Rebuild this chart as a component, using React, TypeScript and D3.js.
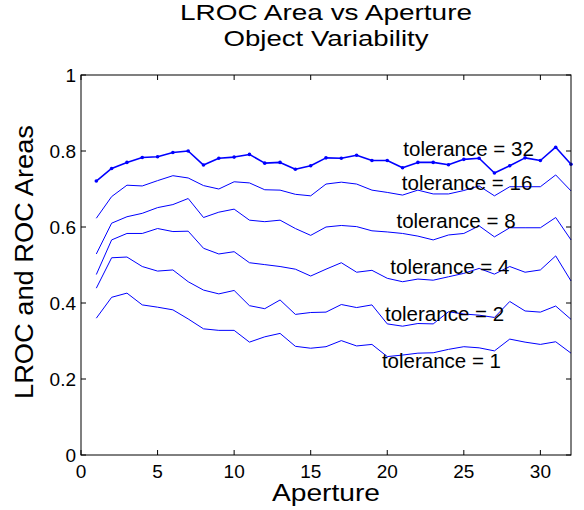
import React from "react";
import * as d3 from "d3";

// aperture values on the x axis
const apertures = [
  1, 2, 3, 4, 5, 6, 7, 8, 9, 10, 11, 12, 13, 14, 15, 16, 17, 18, 19, 20, 21, 22,
  23, 24, 25, 26, 27, 28, 29, 30, 31, 32,
];

const tol32 = [0.721, 0.754, 0.77, 0.783, 0.785, 0.796, 0.8, 0.763, 0.781, 0.784, 0.791, 0.768, 0.77, 0.752, 0.761, 0.782, 0.781, 0.789, 0.775, 0.775, 0.756, 0.77, 0.77, 0.764, 0.778, 0.781, 0.742, 0.761, 0.782, 0.775, 0.81, 0.765];
const tol16 = [0.623, 0.68, 0.71, 0.708, 0.722, 0.735, 0.729, 0.709, 0.7, 0.719, 0.716, 0.698, 0.697, 0.686, 0.682, 0.713, 0.718, 0.713, 0.697, 0.691, 0.684, 0.697, 0.687, 0.687, 0.696, 0.708, 0.682, 0.706, 0.706, 0.706, 0.737, 0.695];
const tol8 = [0.529, 0.61, 0.627, 0.636, 0.651, 0.659, 0.675, 0.625, 0.639, 0.647, 0.618, 0.614, 0.618, 0.596, 0.578, 0.6, 0.604, 0.601, 0.59, 0.587, 0.583, 0.576, 0.566, 0.579, 0.583, 0.603, 0.574, 0.598, 0.598, 0.598, 0.625, 0.566];
const tol4 = [0.475, 0.566, 0.583, 0.583, 0.596, 0.588, 0.589, 0.544, 0.529, 0.535, 0.506, 0.501, 0.496, 0.489, 0.471, 0.489, 0.506, 0.481, 0.486, 0.465, 0.456, 0.463, 0.46, 0.469, 0.478, 0.491, 0.476, 0.496, 0.481, 0.487, 0.524, 0.458];
const tol2 = [0.439, 0.519, 0.521, 0.496, 0.484, 0.487, 0.456, 0.434, 0.424, 0.433, 0.393, 0.385, 0.408, 0.37, 0.375, 0.376, 0.396, 0.388, 0.395, 0.345, 0.339, 0.346, 0.345, 0.377, 0.371, 0.368, 0.362, 0.404, 0.379, 0.376, 0.392, 0.357];
const tol1 = [0.36, 0.415, 0.426, 0.395, 0.389, 0.382, 0.358, 0.332, 0.328, 0.328, 0.297, 0.311, 0.32, 0.286, 0.281, 0.285, 0.301, 0.287, 0.291, 0.259, 0.263, 0.268, 0.269, 0.278, 0.285, 0.282, 0.274, 0.305, 0.297, 0.291, 0.298, 0.268];

const series = [tol32, tol16, tol8, tol4, tol2, tol1];
const tolerances = [32, 16, 8, 4, 2, 1];
// where each "tolerance = n" text sits, in data units (left edge, middle)
const labelX = [21.05, 20.95, 20.6, 20.2, 19.85, 19.65];
const labelY = [0.806, 0.716, 0.616, 0.497, 0.371, 0.248];

const xTicks = [0, 5, 10, 15, 20, 25, 30];
const yTicks = [0, 0.2, 0.4, 0.6, 0.8, 1];

const width = 584;
const height = 510;
const margin = { top: 75, left: 81, bottom: 55, right: 13 };
const font = "'Liberation Sans', Arial, Helvetica, sans-serif";

export default function App() {
  const iwidth = width - margin.left - margin.right;
  const iheight = height - margin.top - margin.bottom;

  const x = d3.scaleLinear().domain([0, 32]).range([0, iwidth]);
  const y = d3.scaleLinear().domain([0, 1]).range([iheight, 0]);

  const line = d3
    .line<number>()
    .x((d, i) => x(apertures[i]))
    .y((d) => y(d));

  const tick = 5;

  return (
    <svg
      width={width}
      height={height}
      style={{ position: "absolute", left: 0, top: 0, background: "#fff" }}
      fontFamily={font}
    >
      <rect width={width} height={height} fill="#fff" />
      <text x={margin.left + iwidth / 2} y={20} fontSize={22} textAnchor="middle" textLength={292} lengthAdjust="spacingAndGlyphs">
        LROC Area vs Aperture
      </text>
      <text x={margin.left + iwidth / 2} y={46} fontSize={22} textAnchor="middle" textLength={205} lengthAdjust="spacingAndGlyphs">
        Object Variability
      </text>

      <g transform={`translate(${margin.left},${margin.top})`}>
        {series.map((s, k) => (
          <path
            key={k}
            d={line(s) || ""}
            fill="none"
            stroke="#0000ff"
            strokeWidth={k === 0 ? 1.6 : 1}
            strokeLinejoin="round"
          />
        ))}
        {tol32.map((d, i) => (
          <circle key={i} cx={x(apertures[i])} cy={y(d)} r={1.8} fill="#0000ff" />
        ))}

        {tolerances.map((t, k) => (
          <text
            key={t}
            x={x(labelX[k])}
            y={y(labelY[k])}
            dy="0.36em"
            fontSize={20.5}
            fill="#000"
          >
            {`tolerance = ${t}`}
          </text>
        ))}

        {/* box */}
        <rect x={0} y={0} width={iwidth} height={iheight} fill="none" stroke="#000" strokeWidth={1} />

        {xTicks.map((t) => (
          <g key={t} transform={`translate(${x(t)},0)`}>
            <line y1={iheight} y2={iheight - tick} stroke="#000" />
            <line y1={0} y2={tick} stroke="#000" />
            <text y={iheight + 23} fontSize={19} textAnchor="middle">
              {t}
            </text>
          </g>
        ))}
        {yTicks.map((t) => (
          <g key={t} transform={`translate(0,${y(t)})`}>
            <line x1={0} x2={tick} stroke="#000" />
            <line x1={iwidth} x2={iwidth - tick} stroke="#000" />
            <text x={-5} dy="0.36em" fontSize={19} textAnchor="end">
              {t}
            </text>
          </g>
        ))}

        <text x={iwidth / 2} y={iheight + 46} fontSize={23} textAnchor="middle" textLength={108} lengthAdjust="spacingAndGlyphs">
          Aperture
        </text>
        <text
          transform={`translate(${33 - margin.left},${iheight / 2 - 3}) rotate(-90)`}
          fontSize={25}
          textAnchor="middle"
          textLength={274}
          lengthAdjust="spacingAndGlyphs"
        >
          LROC and ROC Areas
        </text>
      </g>
    </svg>
  );
}
